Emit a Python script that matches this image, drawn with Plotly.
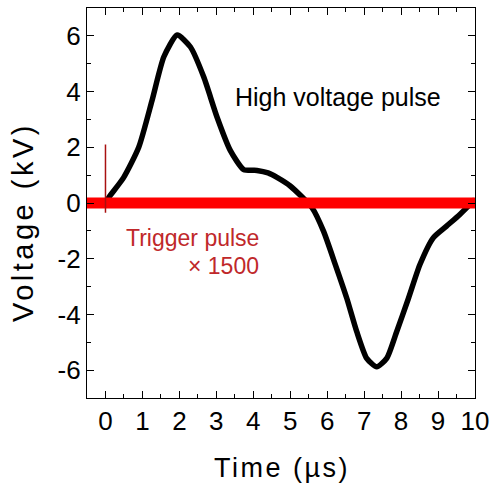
import plotly.graph_objects as go

# High voltage pulse (kV)
hv_time = [0.0, 0.09, 0.49, 0.9, 1.26, 1.58, 1.94, 2.3, 2.66, 3.02, 3.38, 3.74, 4.1, 4.4, 4.64,
           5.0, 5.59, 5.9, 6.22, 6.53, 6.8, 7.07, 7.34, 7.61, 7.88, 8.2, 8.51, 8.87,
           9.23, 9.59, 10.0]
hv_volt = [0.0, 0.2, 0.91, 2.0, 3.68, 5.25, 6.03, 5.6, 4.52, 3.08, 1.88, 1.2, 1.17, 1.08, 0.92,
           0.61, -0.17, -1.01, -2.21, -3.42, -4.62, -5.58, -5.88, -5.58, -4.62, -3.42,
           -2.21, -1.25, -0.83, -0.41, 0.13]

# Trigger pulse (x1500)
trig_time = [-0.5, 10.0]
trig_volt = [0.0, 0.0]
spike_time = [0.0, 0.0]
spike_volt = [-0.35, 2.1]

xticks = [0, 1, 2, 3, 4, 5, 6, 7, 8, 9, 10]
xminor = [-0.5, 0.5, 1.5, 2.5, 3.5, 4.5, 5.5, 6.5, 7.5, 8.5, 9.5]
yticks = [-6, -4, -2, 0, 2, 4, 6]
yticklabels = ["-6", "-4", "-2", "0", "2", "4", "6"]
yminor = [-7, -5, -3, -1, 1, 3, 5, 7]

FONT = "Liberation Sans, Arial, sans-serif"
RED_TXT = "#c0282a"

fig = go.Figure()
fig.add_trace(go.Scatter(x=hv_time, y=hv_volt, mode="lines",
                         line=dict(color="black", width=5.5, shape="spline", smoothing=0.6),
                         showlegend=False))
fig.add_trace(go.Scatter(x=trig_time, y=trig_volt, mode="lines",
                         line=dict(color="#ff0000", width=11), showlegend=False))
fig.add_trace(go.Scatter(x=spike_time, y=spike_volt, mode="lines",
                         line=dict(color="#a81010", width=1.5), showlegend=False))

fig.add_annotation(x=6.3, y=3.8, text="High voltage pulse", showarrow=False,
                   font=dict(family=FONT, size=25, color="black"), xanchor="center")
fig.add_annotation(x=4.2, y=-1.26, text="Trigger pulse", showarrow=False,
                   font=dict(family=FONT, size=23, color=RED_TXT), xanchor="right")
fig.add_annotation(x=4.2, y=-2.27, text="× 1500", showarrow=False,
                   font=dict(family=FONT, size=23, color=RED_TXT), xanchor="right")

# axis titles as annotations for precise placement
fig.add_annotation(xref="paper", yref="paper", x=0.503, y=-0.18,
                   text='<span style="letter-spacing:2.5px">Time (µs)</span>',
                   showarrow=False, font=dict(family=FONT, size=27, color="black"),
                   xanchor="center", yanchor="middle")
fig.add_annotation(xref="paper", yref="paper", x=-0.165, y=0.451,
                   text='<span style="letter-spacing:3.5px">Voltage (kV)</span>',
                   showarrow=False, textangle=-90,
                   font=dict(family=FONT, size=29, color="black"),
                   xanchor="center", yanchor="middle")

axis_common = dict(showline=True, linecolor="black", linewidth=1.2, mirror="allticks",
                   ticks="inside", ticklen=7, tickwidth=1.2, tickcolor="black",
                   showgrid=False, zeroline=False, tickmode="array",
                   tickfont=dict(family=FONT, size=26, color="black"))

fig.update_xaxes(range=[-0.5, 10], tickvals=xticks, ticktext=[str(v) for v in xticks],
                 minor=dict(ticks="inside", ticklen=3.5, tickwidth=1.2, tickcolor="black",
                            tickmode="array", tickvals=xminor, showgrid=False),
                 **axis_common)
fig.update_yaxes(range=[-7, 7], tickvals=yticks, ticktext=yticklabels,
                 minor=dict(ticks="inside", ticklen=3.5, tickwidth=1.2, tickcolor="black",
                            tickmode="array", tickvals=yminor, showgrid=False),
                 **axis_common)

fig.update_layout(width=495, height=494, margin=dict(l=87, r=20, t=8, b=96, autoexpand=False),
                  plot_bgcolor="white", paper_bgcolor="white",
                  font=dict(family=FONT))

fig.write_html("out.html", config={"displayModeBar": False},
               post_script="document.body.style.margin='0';")
